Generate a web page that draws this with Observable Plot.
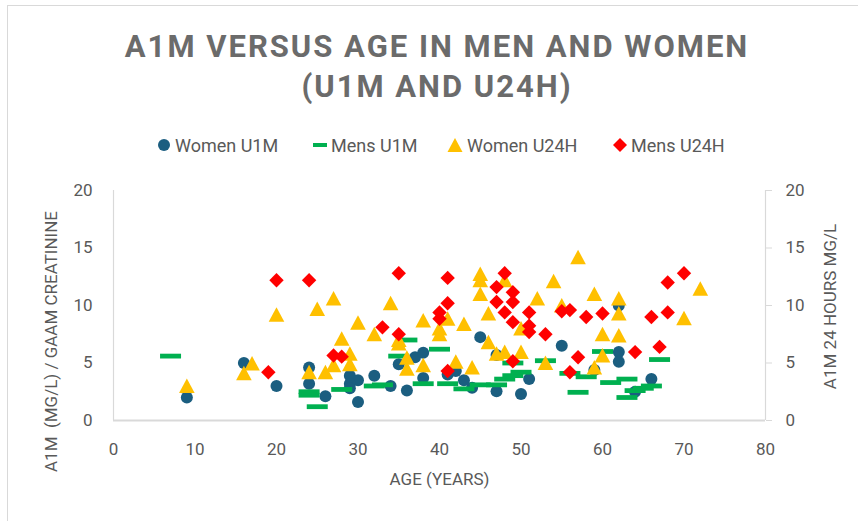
<!DOCTYPE html>
<html><head><meta charset="utf-8">
<script src="https://cdn.jsdelivr.net/npm/d3@7"></script>
<script src="https://cdn.jsdelivr.net/npm/@observablehq/plot@0.6"></script>
<style>
html,body{margin:0;padding:0;background:#fff;}
#wrap{position:relative;width:858px;height:521px;overflow:hidden;background:#fff;font-family:Roboto,"Open Sans",sans-serif;}
#frame{position:absolute;left:7px;top:5px;width:900px;height:600px;border-left:1px solid #d9d9d9;border-top:1px solid #d9d9d9;}
#title{position:absolute;left:8px;top:27px;width:858px;text-align:center;font-weight:700;font-size:31px;line-height:40px;letter-spacing:2px;color:#6b6b6b;}
.leg{position:absolute;top:134px;height:22px;display:flex;align-items:center;font-size:18px;color:#595959;white-space:nowrap;}
.leg svg{margin-right:4px;}
#chart{position:absolute;left:0;top:170px;}
</style></head>
<body><div id="wrap">
<div id="frame"></div>
<div id="title">A1M VERSUS AGE IN MEN AND WOMEN<br>(U1M AND U24H)</div>
<div id="legend"></div>
<div id="chart"></div>
</div>
<script>
// ---- data ----
const seriesNames = ["Women U1M", "Mens U1M", "Women U24H", "Mens U24H"];
const seriesColors = ["#1b5e80", "#00b050", "#ffc000", "#ff0000"];

const womenU1M_age = [9, 16, 20, 24, 24, 26, 29, 30, 29, 29, 30, 32, 34, 35, 36, 37, 38, 38, 41, 42, 43, 44, 45, 47, 47, 50, 51, 55, 59, 62, 62, 62, 64, 66];
const womenU1M_val = [2.0, 5.0, 3.0, 4.6, 3.2, 2.1, 3.9, 3.5, 3.2, 2.8, 1.6, 3.9, 3.0, 4.9, 2.6, 5.5, 5.9, 3.7, 4.0, 4.3, 3.5, 2.85, 7.25, 5.7, 2.55, 2.3, 3.6, 6.5, 4.4, 10.0, 5.95, 5.1, 2.5, 3.6];

const mensU1M_age = [7, 24, 24, 25, 28, 32, 33, 35, 36, 38, 40, 41, 43, 45, 47, 48, 49, 49, 50, 53, 56, 57, 58, 60, 61, 63, 63, 64, 65, 66, 67];
const mensU1M_val = [5.6, 2.5, 2.2, 1.2, 2.7, 3.0, 3.1, 5.6, 7.0, 3.2, 6.2, 3.2, 2.75, 3.1, 3.1, 3.6, 3.9, 5.0, 4.2, 5.2, 4.1, 2.45, 3.8, 6.0, 3.3, 3.6, 2.0, 2.6, 2.8, 3.0, 5.3];

const womenU24H_age = [9, 16, 17, 20, 24, 25, 26, 27, 27, 28, 29, 29, 30, 32, 34, 35, 35, 36, 36, 38, 38, 40, 40, 41, 42, 43, 44, 45, 45, 45, 46, 46, 47, 48, 48, 50, 50, 52, 53, 54, 55, 57, 59, 59, 60, 60, 62, 62, 62, 70, 72];
const womenU24H_val = [3.0, 4.1, 4.95, 9.2, 4.2, 9.7, 4.2, 10.6, 4.8, 7.1, 5.8, 4.9, 8.5, 7.5, 10.2, 7.0, 6.7, 5.45, 4.5, 8.7, 4.8, 8.0, 7.5, 8.85, 5.1, 8.4, 4.6, 12.75, 12.2, 11.0, 9.3, 6.8, 5.8, 12.2, 5.95, 8.0, 5.95, 10.6, 5.0, 12.1, 10.0, 14.2, 11.0, 4.6, 7.5, 5.65, 10.6, 9.3, 7.4, 8.9, 11.45];

const mensU24H_age = [19, 20, 24, 27, 28, 33, 35, 35, 40, 40, 41, 41, 41, 47, 47, 48, 48, 49, 49, 49, 49, 51, 51, 51, 53, 55, 56, 56, 57, 58, 60, 64, 66, 67, 68, 68, 70];
const mensU24H_val = [4.2, 12.2, 12.2, 5.65, 5.55, 8.1, 12.8, 7.5, 9.4, 8.85, 12.4, 10.2, 4.3, 11.6, 10.3, 12.8, 9.4, 11.15, 10.3, 8.55, 5.15, 9.4, 8.25, 7.7, 7.5, 9.5, 9.6, 4.2, 5.5, 9.0, 9.3, 5.95, 9.0, 6.4, 9.4, 12.0, 12.8];

const xTicks = [0, 10, 20, 30, 40, 50, 60, 70, 80];
const yTicks = [0, 5, 10, 15, 20];
const xLabel = "AGE (YEARS)";
const yLabelLeft = "A1M  (MG/L) / GAAM CREATININE";
const yLabelRight = "A1M 24 HOURS MG/L";

// ---- build rows ----
const rows = (ages, vals) => ages.map((a, i) => ({age: a, value: vals[i]}));
const womenU1M = rows(womenU1M_age, womenU1M_val);
const mensU1M = rows(mensU1M_age, mensU1M_val);
const womenU24H = rows(womenU24H_age, womenU24H_val);
const mensU24H = rows(mensU24H_age, mensU24H_val);

// ---- marker shapes ----
const dashSym = {draw(c){c.moveTo(-10.5,-2.4);c.lineTo(10.5,-2.4);c.lineTo(10.5,2.4);c.lineTo(-10.5,2.4);c.closePath();}};
const triSym = {draw(c){c.moveTo(0,-7.5);c.lineTo(7.8,7);c.lineTo(-7.8,7);c.closePath();}};
const diaSym = {draw(c){c.moveTo(0,-7.2);c.lineTo(7.2,0);c.lineTo(0,7.2);c.lineTo(-7.2,0);c.closePath();}};

const font = 'Roboto, "Open Sans", sans-serif';
const chart = Plot.plot({
  width: 858, height: 351,
  marginTop: 20, marginBottom: 101, marginLeft: 113, marginRight: 93,
  style: {fontFamily: font, fontSize: "17px", color: "#595959", background: "transparent", overflow: "visible"},
  x: {domain: [0, 80]},
  y: {domain: [0, 20]},
  marks: [
    Plot.ruleX([0], {stroke: "#d9d9d9", strokeWidth: 1.2}),
    Plot.ruleX([80], {stroke: "#d9d9d9", strokeWidth: 1.2}),
    Plot.ruleY([0], {stroke: "#d9d9d9", strokeWidth: 2}),
    Plot.axisX({ticks: xTicks, tickSize: 0, tickPadding: 22, fill: "#595959", label: null}),
    Plot.axisY({anchor: "left", ticks: yTicks, tickSize: 0, tickPadding: 21, fill: "#595959", label: null}),
    Plot.axisY({anchor: "right", ticks: yTicks, tickSize: 6, tickPadding: 14, stroke: "#d9d9d9", fill: "#595959", label: null}),
    Plot.text([xLabel], {frameAnchor: "bottom", dy: 64, text: d => d, fill: "#595959", fontSize: 17}),
    Plot.text([yLabelLeft], {frameAnchor: "left", textAnchor: "middle", rotate: -90, dx: -62, dy: 36, text: d => d, fill: "#595959", fontSize: 17}),
    Plot.text([yLabelRight], {frameAnchor: "right", textAnchor: "middle", rotate: -90, dx: 65, dy: 1, text: d => d, fill: "#595959", fontSize: 17}),
    Plot.dot(womenU1M, {x: "age", y: "value", r: 6, fill: seriesColors[0], stroke: "none"}),
    Plot.dot(mensU1M, {x: "age", y: "value", r: 5, symbol: dashSym, fill: seriesColors[1], stroke: "none"}),
    Plot.dot(womenU24H, {x: "age", y: "value", r: 5, symbol: triSym, fill: seriesColors[2], stroke: "none"}),
    Plot.dot(mensU24H, {x: "age", y: "value", r: 5, symbol: diaSym, fill: seriesColors[3], stroke: "none"})
  ]
});
document.getElementById("chart").appendChild(chart);

// ---- legend ----
const legIcons = [
  '<svg width="14" height="14"><circle cx="7" cy="7" r="6" fill="' + seriesColors[0] + '"/></svg>',
  '<svg width="14" height="14"><rect x="0" y="5" width="14" height="4" fill="' + seriesColors[1] + '"/></svg>',
  '<svg width="16" height="16"><path d="M8,1L15.5,15L0.5,15Z" fill="' + seriesColors[2] + '"/></svg>',
  '<svg width="14" height="14"><path d="M7,0L14,7L7,14L0,7Z" fill="' + seriesColors[3] + '"/></svg>'
];
const legX = [157, 313, 447, 613];
const leg = document.getElementById("legend");
seriesNames.forEach((n, i) => {
  const d = document.createElement("div");
  d.className = "leg";
  d.style.left = legX[i] + "px";
  d.innerHTML = legIcons[i] + "<span>" + n + "</span>";
  leg.appendChild(d);
});
</script>
</body></html>
